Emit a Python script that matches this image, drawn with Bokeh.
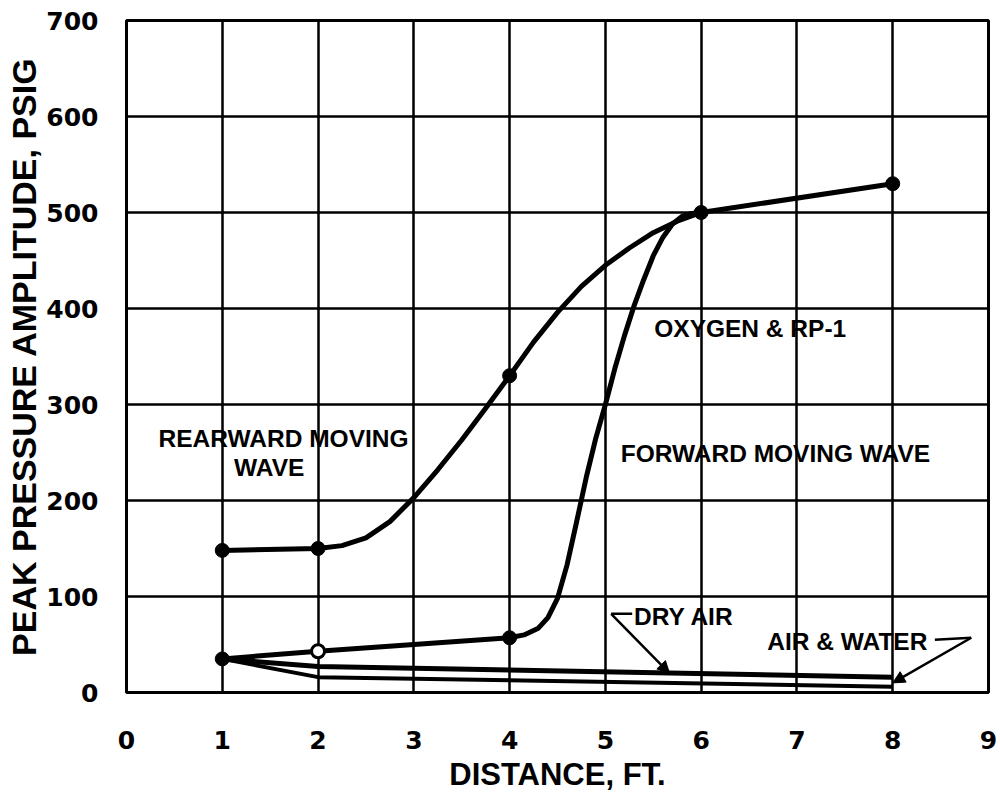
from bokeh.plotting import figure
from bokeh.models import Label, Arrow, NormalHead, Range1d, FixedTicker
from bokeh.embed import file_html
from bokeh.resources import INLINE

# Rearward moving wave (Oxygen & RP-1): measured stations and the faired curve
rear_x_pts = [1, 2, 4, 6, 8]
rear_y_pts = [148, 150, 330, 500, 530]
rear_curve_x = [1, 2, 2.25, 2.5, 2.75, 3, 3.25, 3.5, 3.75, 4, 4.25, 4.5, 4.75, 5, 5.25, 5.5, 5.75, 6, 8]
rear_curve_y = [148, 150, 153, 161, 178, 203, 232, 263, 296, 330, 365, 396, 423, 445, 463, 479, 491, 500, 530]

# Forward moving wave (Oxygen & RP-1)
fwd_x_pts = [1, 4]
fwd_y_pts = [35, 57]
fwd_open_x = [2]
fwd_open_y = [43]
fwd_curve_x = [1, 2, 4, 4.15, 4.3, 4.4, 4.5, 4.6, 4.7, 4.8, 4.9, 5.0, 5.1, 5.2, 5.3, 5.4, 5.5, 5.6, 5.7, 5.8, 5.9, 6]
fwd_curve_y = [35, 43, 57, 60, 67, 78, 98, 133, 178, 224, 265, 300, 338, 372, 403, 430, 455, 474, 488, 496, 499, 500]

# Dry air and air & water runs
dry_x = [1, 2, 8]
dry_y = [35, 27, 16]
water_x = [1, 2, 8]
water_y = [35, 16, 6]

x_ticks = [0, 1, 2, 3, 4, 5, 6, 7, 8, 9]
y_ticks = [0, 100, 200, 300, 400, 500, 600, 700]

p = figure(width=1000, height=794, output_backend="svg", toolbar_location=None,
           x_range=Range1d(0, 9), y_range=Range1d(0, 700),
           min_border_left=126, min_border_right=12, min_border_top=20, min_border_bottom=102)
p.background_fill_color = "white"
p.border_fill_color = "white"
p.outline_line_color = "black"
p.outline_line_width = 3

for ax in (p.xaxis[0], p.yaxis[0]):
    ax.axis_line_color = None
    ax.major_tick_line_color = None
    ax.minor_tick_line_color = None
    ax.major_label_text_font = "DejaVu Sans"
    ax.major_label_text_font_style = "bold"
    ax.major_label_text_font_size = "25px"
    ax.major_label_text_color = "black"
    ax.axis_label_text_font = "Liberation Sans"
    ax.axis_label_text_font_style = "bold"
    ax.axis_label_text_color = "black"

p.xaxis.ticker = FixedTicker(ticks=x_ticks)
p.yaxis.ticker = FixedTicker(ticks=y_ticks)
p.xaxis.major_label_standoff = 32
p.yaxis.major_label_standoff = 22

p.xaxis.axis_label = "DISTANCE, FT."
p.xaxis.axis_label_text_font_size = "31px"
p.xaxis.axis_label_standoff = 5
p.yaxis.axis_label = "PEAK PRESSURE AMPLITUDE, PSIG"
p.yaxis.axis_label_text_font_size = "34px"
p.yaxis.axis_label_standoff = 0

p.xgrid.ticker = FixedTicker(ticks=x_ticks)
p.ygrid.ticker = FixedTicker(ticks=y_ticks)
for g in (p.xgrid[0], p.ygrid[0]):
    g.grid_line_color = "black"
    g.grid_line_width = 2.5
    g.grid_line_alpha = 1.0

# curves
p.line(dry_x, dry_y, line_color="black", line_width=5)
p.line(water_x, water_y, line_color="black", line_width=4)
p.line(rear_curve_x, rear_curve_y, line_color="black", line_width=5, line_join="round")
p.line(fwd_curve_x, fwd_curve_y, line_color="black", line_width=5, line_join="round")

# data points
p.scatter(rear_x_pts, rear_y_pts, size=14, marker="circle", fill_color="black", line_color="black")
p.scatter(fwd_x_pts, fwd_y_pts, size=14, marker="circle", fill_color="black", line_color="black")
p.scatter(fwd_open_x, fwd_open_y, size=13, marker="circle", fill_color="white",
          line_color="black", line_width=3)

# leader lines and arrows
p.line([5.28, 5.06], [82, 82], line_color="black", line_width=2.5)
p.add_layout(Arrow(x_start=5.06, y_start=82, x_end=5.67, y_end=20, line_width=2.5,
                   end=NormalHead(size=12, fill_color="black", line_color="black")))
p.line([8.44, 8.82], [55, 57], line_color="black", line_width=2.5)
p.add_layout(Arrow(x_start=8.82, y_start=57, x_end=8.0, y_end=10, line_width=2.5,
                   end=NormalHead(size=12, fill_color="black", line_color="black")))

def note(x, y, text, align="left"):
    p.add_layout(Label(x=x, y=y, text=text, text_font="Liberation Sans", text_font_size="24.5px",
                       text_font_style="bold", text_color="black", text_align=align,
                       text_baseline="middle"))

note(1.64, 265, "REARWARD MOVING", align="center")
note(1.49, 234, "WAVE", align="center")
note(5.51, 379, "OXYGEN & RP-1")
note(5.16, 249, "FORWARD MOVING WAVE")
note(5.30, 79, "DRY AIR")
note(6.69, 53, "AIR & WATER")

open("out.html", "w").write(file_html(p, INLINE))
